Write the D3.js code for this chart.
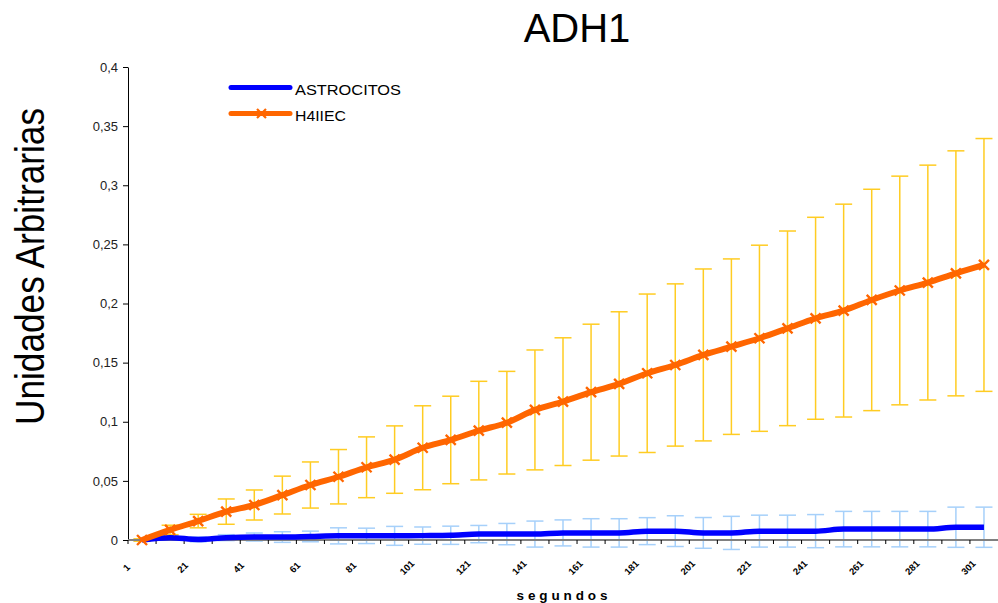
<!DOCTYPE html>
<html>
<head>
<meta charset="utf-8">
<script src="https://cdn.jsdelivr.net/npm/d3@7"></script>
<style>
  html, body { margin: 0; padding: 0; background: #fff; }
  svg { display: block; font-family: "Liberation Sans", Arial, sans-serif; }
</style>
</head>
<body>
<svg id="chart" width="998" height="603"></svg>
<script>
// Time points (seconds) on the category axis
const seconds = [1, 11, 21, 31, 41, 51, 61, 71, 81, 91, 101, 111, 121, 131, 141, 151,
                 161, 171, 181, 191, 201, 211, 221, 231, 241, 251, 261, 271, 281, 291, 301];

// ASTROCITOS: mean and error
const astrocitos = [0, 0.002, 0.0005, 0.002, 0.0025, 0.0025, 0.003, 0.0035, 0.0035, 0.0035,
                    0.0037, 0.004, 0.005, 0.005, 0.005, 0.006, 0.006, 0.006, 0.0075, 0.0075,
                    0.006, 0.006, 0.0075, 0.0075, 0.0075, 0.0092, 0.0092, 0.0092, 0.0092, 0.0108, 0.0108];
const astrocitosErr = [0.001, 0.002, 0.002, 0.0025, 0.0034, 0.0045, 0.0045, 0.0068, 0.0065, 0.008,
                       0.0073, 0.0077, 0.0073, 0.009, 0.011, 0.011, 0.012, 0.012, 0.0114, 0.013,
                       0.013, 0.014, 0.0135, 0.0135, 0.014, 0.015, 0.015, 0.015, 0.015, 0.017, 0.017];

// H4IIEC: mean and error
const h4iiec = [0, 0.0085, 0.016, 0.024, 0.0296, 0.038, 0.0465, 0.0535, 0.0615, 0.068,
                0.078, 0.0846, 0.0925, 0.0992, 0.11, 0.117, 0.125, 0.132, 0.141, 0.148,
                0.1565, 0.1635, 0.1706, 0.179, 0.1875, 0.194, 0.203, 0.211, 0.2177, 0.2255, 0.2326];
const h4iiecErr = [0.001, 0.004, 0.0057, 0.0107, 0.0127, 0.016, 0.0195, 0.023, 0.0257, 0.0285,
                   0.0355, 0.037, 0.0417, 0.0434, 0.0507, 0.054, 0.0575, 0.061, 0.067, 0.0686,
                   0.0727, 0.0742, 0.0787, 0.0823, 0.0854, 0.090, 0.0936, 0.0967, 0.0993, 0.1036, 0.1069];

const yTicks = [0, 0.05, 0.1, 0.15, 0.2, 0.25, 0.3, 0.35, 0.4];
const seriesNames = ["ASTROCITOS", "H4IIEC"];

const svg = d3.select("#chart");
const plotLeft = 128, plotRight = 998, plotTop = 67, plotBottom = 540;

const x = d3.scaleBand().domain(seconds).range([plotLeft, plotRight]).padding(0);
const cx = d => x(d) + x.bandwidth() / 2;
const y = d3.scaleLinear().domain([0, 0.4]).range([plotBottom, plotTop]);

const locale = d3.formatLocale({ decimal: ",", thousands: ".", grouping: [3], currency: ["", "€"] });
const fmt = locale.format("~g");

// Title
svg.append("text").attr("x", 577).attr("y", 42).attr("text-anchor", "middle")
  .attr("font-size", 40).attr("fill", "#000").text("ADH1");

// Y axis
const yAxis = svg.append("g").attr("transform", `translate(${plotLeft},0)`)
  .call(d3.axisLeft(y).tickValues(yTicks).tickFormat(fmt).tickSize(5).tickSizeOuter(0).tickPadding(5));
yAxis.select(".domain").attr("stroke", "#000");
yAxis.selectAll(".tick line").attr("stroke", "#000");
yAxis.selectAll(".tick text").attr("font-size", 13).attr("fill", "#222")
  .attr("font-family", "'Liberation Sans', Arial, sans-serif");

// Y title
svg.append("text").attr("transform", "translate(44,266.5) rotate(-90)")
  .attr("text-anchor", "middle").attr("font-size", 40)
  .attr("textLength", 317).attr("lengthAdjust", "spacingAndGlyphs")
  .text("Unidades Arbitrarias");

// Error bars
function errorBars(means, errs, color) {
  const g = svg.append("g").attr("stroke", color).attr("stroke-width", 1.5).attr("fill", "none");
  const data = seconds.map((s, i) => ({ s, m: means[i], e: errs[i] }));
  g.selectAll("line.v").data(data).join("line").attr("class", "v")
    .attr("x1", d => cx(d.s)).attr("x2", d => cx(d.s))
    .attr("y1", d => y(d.m - d.e)).attr("y2", d => y(d.m + d.e));
  g.selectAll("line.up").data(data).join("line").attr("class", "up")
    .attr("x1", d => cx(d.s) - 8.5).attr("x2", d => cx(d.s) + 8.5)
    .attr("y1", d => y(d.m + d.e)).attr("y2", d => y(d.m + d.e));
  g.selectAll("line.lo").data(data).join("line").attr("class", "lo")
    .attr("x1", d => cx(d.s) - 8.5).attr("x2", d => cx(d.s) + 8.5)
    .attr("y1", d => y(d.m - d.e)).attr("y2", d => y(d.m - d.e));
}
errorBars(astrocitos, astrocitosErr, "#A6D0FA");
errorBars(h4iiec, h4iiecErr, "#FFCC22");

// X axis: gray baseline with boundary ticks
svg.append("line").attr("x1", plotLeft).attr("x2", plotRight).attr("y1", plotBottom).attr("y2", plotBottom)
  .attr("stroke", "#808080").attr("stroke-width", 2);
svg.append("g").selectAll("line").data(seconds).join("line")
  .attr("x1", d => x(d)).attr("x2", d => x(d))
  .attr("y1", plotBottom).attr("y2", plotBottom + 4).attr("stroke", "#000");

// X labels (every other point)
svg.append("g").selectAll("text").data(seconds.filter((d, i) => i % 2 === 0)).join("text")
  .attr("transform", d => `translate(${cx(d) - 15},568) rotate(-45)`)
  .attr("text-anchor", "middle").attr("dominant-baseline", "middle")
  .attr("font-size", 9.5).attr("font-weight", "bold").attr("fill", "#000")
  .text(d => d);

svg.append("text").attr("x", 562).attr("y", 600).attr("text-anchor", "middle")
  .attr("font-size", 13.5).attr("font-weight", "bold")
  .attr("textLength", 91).attr("lengthAdjust", "spacing").text("segundos");

// Lines
const line = d3.line().x((d, i) => cx(seconds[i])).y(d => y(d)).curve(d3.curveMonotoneX);
svg.append("path").datum(astrocitos).attr("d", line).attr("fill", "none")
  .attr("stroke", "#0000FF").attr("stroke-width", 5.5).attr("stroke-linejoin", "round");
svg.append("path").datum(h4iiec).attr("d", line).attr("fill", "none")
  .attr("stroke", "#FF6600").attr("stroke-width", 6).attr("stroke-linejoin", "round");

const xMark = "M-5,-5L5,5M-5,5L5,-5";
svg.append("g").selectAll("path").data(h4iiec).join("path")
  .attr("transform", (d, i) => `translate(${cx(seconds[i])},${y(d)})`)
  .attr("d", xMark).attr("stroke", "#FF6600").attr("stroke-width", 2.4);

// Legend
const legend = svg.append("g");
const legendColors = ["#0000FF", "#FF6600"];
const legendY = [87.5, 113.5];
seriesNames.forEach((name, i) => {
  legend.append("line").attr("x1", 231).attr("x2", 290).attr("y1", legendY[i]).attr("y2", legendY[i])
    .attr("stroke", legendColors[i]).attr("stroke-width", 5).attr("stroke-linecap", "round");
  if (i === 1) legend.append("path").attr("d", "M-4.5,-4.5L4.5,4.5M-4.5,4.5L4.5,-4.5")
    .attr("transform", `translate(261.5,${legendY[i]})`).attr("stroke", "#FF6600").attr("stroke-width", 2.2);
  legend.append("text").attr("x", 295).attr("y", legendY[i] + 7).attr("font-size", 14)
    .attr("textLength", i === 0 ? 106 : 51).attr("lengthAdjust", "spacingAndGlyphs")
    .text(name);
});
</script>
</body>
</html>
